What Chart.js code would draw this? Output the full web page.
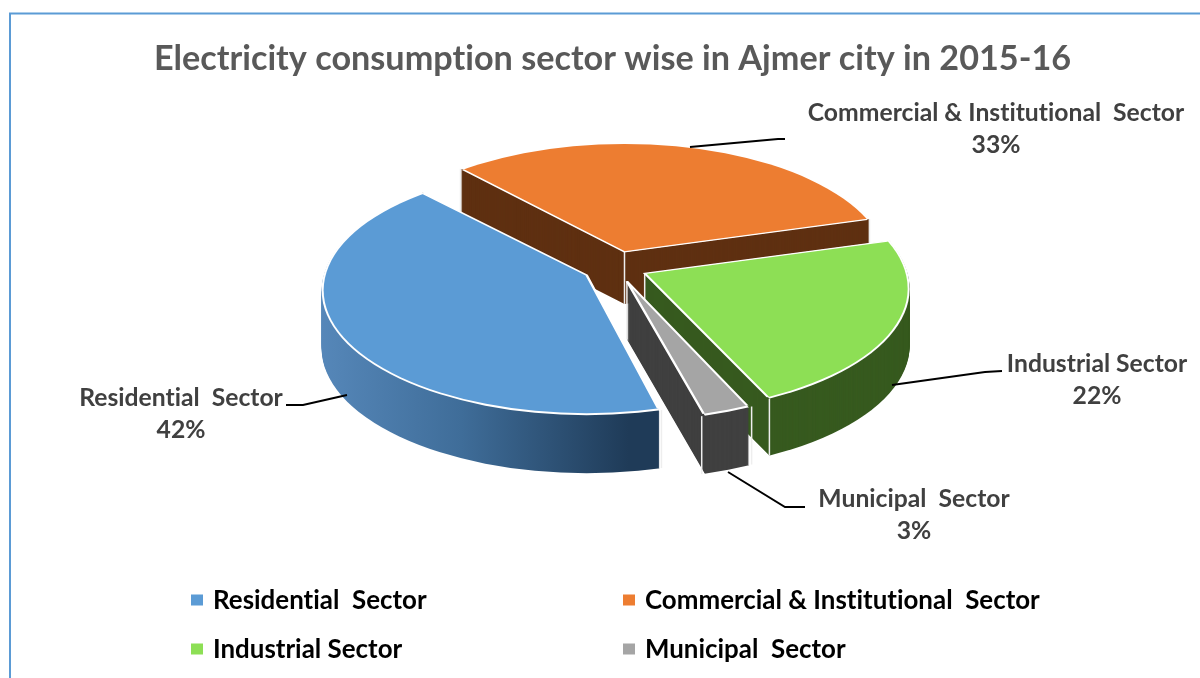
<!DOCTYPE html>
<html><head><meta charset="utf-8">
<style>html,body{margin:0;padding:0;background:#fff}canvas{display:block}</style>
<script src="https://cdn.jsdelivr.net/npm/chart.js@4"></script></head>
<body><canvas id="c" width="1200" height="678"></canvas>
<script>
const categories = ['Residential  Sector','Commercial & Institutional  Sector','Industrial Sector','Municipal  Sector'];
const shares = [42,33,22,3];
const chartTitle = 'Electricity consumption sector wise in Ajmer city in 2015-16';

// styles
const topColors = ['#5b9bd5','#ed7d31','#8ddf55','#a5a5a5'];
const wallColors = [null,'#5f3011','#375a1f','#404040'];
const explode = [135,128,126,124];
const depths = [58,52,57,58];
const drawOrder = [1,0,2,3];
const FONT = 'Lato, Carlito, sans-serif';
const tilt = 0.49, centre = {x:616,y:267}, rim = {rx:265,ry:125,dy:15};
const labelLayout = [
 {x:181,y:398,line:[[347,395],[303,405],[286,405]]},
 {x:996,y:113,line:[[690,147],[778,139],[785,139]]},
 {x:1097,y:364,line:[[892,385],[985,372],[1002,371]]},
 {x:914,y:499,line:[[728,472],[785,507],[805,507]]}
];
const legendLayout = [{x:191,y:601},{x:623,y:601},{x:191,y:650},{x:623,y:650}];

function apexOf(a){
  const o=(explode[a.$i]||0)/4, m=(a.startAngle+a.endAngle)/2;
  return {x:centre.x+Math.cos(m)*o, y:centre.y+Math.sin(m)*o*tilt};
}
function edgePoint(ap,ang){
  const ux=Math.cos(ang),uy=Math.sin(ang)*tilt,A=ux*ux/(rim.rx*rim.rx)+uy*uy/(rim.ry*rim.ry),
        B=-2*uy*rim.dy/(rim.ry*rim.ry),C=rim.dy*rim.dy/(rim.ry*rim.ry)-1,
        t=(-B+Math.sqrt(B*B-4*A*C))/(2*A);
  return {x:ap.x+ux*t,y:ap.y+uy*t};
}
function paintArc(ctx,a,ap,dy,shrink,opts){
  ctx.save();
  ctx.beginPath();
  ctx.ellipse(ap.x,ap.y+rim.dy+dy,rim.rx-shrink,rim.ry-shrink,0,0,Math.PI*2);
  ctx.clip();
  ctx.translate(centre.x,centre.y+dy);
  ctx.scale(1,tilt);
  ctx.translate(-a.x,-a.y);
  const saved=a.options;
  a.options=Object.assign({},saved,opts);
  a.draw(ctx);
  a.options=saved;
  ctx.restore();
}
const pie3d = {
  id:'pie3d',
  beforeDraw(chart){
    const ctx=chart.ctx;
    ctx.letterSpacing='0.01px';
    ctx.save();
    ctx.strokeStyle='#5b9bd5';ctx.lineWidth=2;
    ctx.beginPath();ctx.moveTo(10,678);ctx.lineTo(10,13.5);ctx.lineTo(1200,13.5);ctx.stroke();
    ctx.restore();
  },
  beforeDatasetDraw(chart,args){
    const ctx=chart.ctx, arcs=chart.getDatasetMeta(args.index).data;
    arcs.forEach((a,i)=>a.$i=i);
    drawOrder.forEach(i=>{
      const a=arcs[i], ap=apexOf(a);
      let wall=wallColors[i];
      if(!wall){
        wall=ctx.createLinearGradient(a.x-293,0,a.x+42,0);
        wall.addColorStop(0,'#5a8cbf');wall.addColorStop(.5,'#3f6d99');wall.addColorStop(1,'#1f3b58');
      }
      for(let d=depths[i];d>0;d--) paintArc(ctx,a,ap,d,0,{backgroundColor:wall,borderWidth:0});
      ctx.save();
      ctx.strokeStyle='#eeeeee';ctx.lineWidth=1.5;
      [ap,edgePoint(ap,a.startAngle),edgePoint(ap,a.endAngle)].forEach(p=>{
        ctx.beginPath();ctx.moveTo(p.x,p.y);ctx.lineTo(p.x,p.y+depths[i]);ctx.stroke();
      });
      ctx.restore();
      paintArc(ctx,a,ap,0,0,{backgroundColor:'#ffffff',borderWidth:0});
      paintArc(ctx,a,ap,0,2,{backgroundColor:topColors[i],borderColor:'#ffffff',borderWidth:2.6,borderJoinStyle:'miter'});
    });
    return false;
  },
  afterDraw(chart){
    const ctx=chart.ctx;
    ctx.save();
    ctx.textBaseline='middle';
    categories.forEach((name,i)=>{
      const l=labelLayout[i];
      ctx.strokeStyle='#000';ctx.lineWidth=2;
      ctx.beginPath();l.line.forEach((p,k)=>k?ctx.lineTo(p[0],p[1]):ctx.moveTo(p[0],p[1]));ctx.stroke();
      ctx.font='bold 24.7px '+FONT;ctx.fillStyle='#404040';ctx.textAlign='center';
      ctx.fillText(name,l.x,l.y);
      ctx.fillText(shares[i]+'%',l.x,l.y+32);
      const g=legendLayout[i];
      ctx.fillStyle=topColors[i];ctx.fillRect(g.x,g.y-6.5,12,11);
      ctx.font='bold 25.9px '+FONT;ctx.fillStyle='#000';ctx.textAlign='left';
      ctx.fillText(name,g.x+22,g.y);
    });
    ctx.restore();
  }
};
new Chart(document.getElementById('c'),{
  type:'pie',
  data:{labels:categories,datasets:[{data:shares,backgroundColor:topColors,offset:explode,borderWidth:0}]},
  options:{
    responsive:false,animation:false,radius:330,rotation:164.8,
    layout:{padding:{left:25}},
    plugins:{legend:{display:false},tooltip:{enabled:false},
      title:{display:true,text:chartTitle,color:'#595959',font:{family:FONT,size:34.2,weight:'bold'},padding:{top:38,bottom:0}}}
  },
  plugins:[pie3d]
});
</script></body></html>
